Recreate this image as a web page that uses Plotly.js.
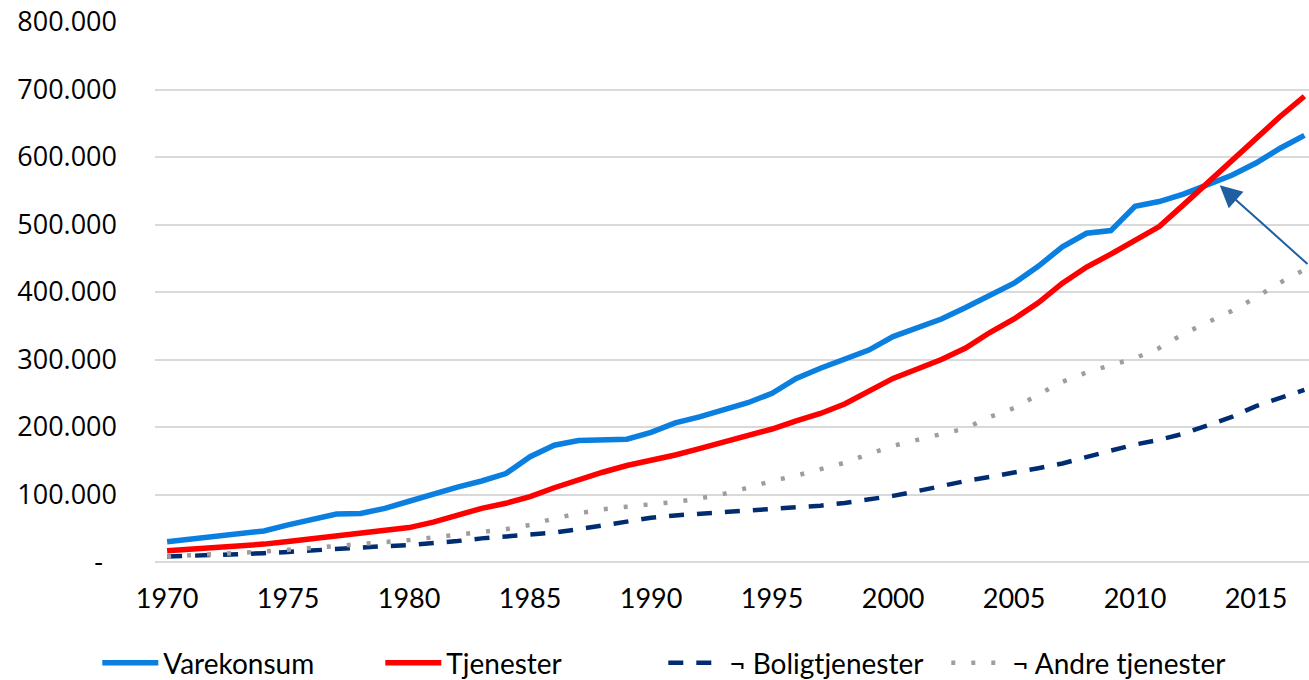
<!DOCTYPE html>
<html>
<head>
<meta charset="utf-8">
<script src="https://cdn.plot.ly/plotly-3.0.1.min.js"></script>
<style>
html,body{margin:0;padding:0;background:#fff;overflow:hidden;}
#chart{width:1309px;height:710px;}
</style>
</head>
<body>
<div id="chart"></div>
<script>
const years = [];
for (let y = 1970; y <= 2017; y++) years.push(y);

const varekonsum = [30000,33500,37000,41000,46000,55000,63000,71000,72000,79500,
  90000,101000,111000,120000,131000,156000,173000,180000,180000,182000,
  192000,206000,215000,225000,236000,250000,272000,287000,300000,314000,
  334000,346000,360000,377000,396000,413000,438000,467000,487000,491000,
  527000,534000,545000,558000,573000,591000,613000,632000];

const tjenester = [16500,18500,21000,23500,26500,30500,34500,39000,42500,46500,
  51000,59000,70000,79500,87000,97000,110000,122000,133000,143000,
  150000,158500,168000,178000,186000,197000,209000,220000,234000,252000,
  272000,286000,300000,317000,340000,360000,384000,413000,437000,456000,
  477000,497000,529000,562000,593000,626000,660000,690000];

const boligtjenester = [8000,9000,10500,11500,13000,15000,17500,20000,22000,23500,
  25000,27500,31000,35000,38000,40500,43500,48500,54000,60000,
  65500,69000,71500,73500,75500,77500,80500,83500,87500,92000,
  98000,105000,113000,120000,126000,132000,139000,146000,156000,165000,
  174000,181000,190000,203000,215000,231000,243000,255000];

const andreTjenester = [8000,9500,11000,13000,15500,18000,20500,23000,26000,29500,
  32500,36500,40000,44000,48500,55000,64500,72000,78000,82000,
  85000,89000,94000,101000,110000,120000,128000,137000,147000,160000,
  172000,181000,189000,198000,215000,228000,248000,267000,281000,291000,
  302000,317000,338000,355000,372000,392000,414000,433000];

const seriesNames = ["Varekonsum", "Tjenester", "¬ Boligtjenester", "¬ Andre tjenester"];
const xTickVals = [1970,1975,1980,1985,1990,1995,2000,2005,2010,2015];
const yTickVals = [0,100000,200000,300000,400000,500000,600000,700000,800000];
const yTickText = ["-\u00a0\u00a0","100.000","200.000","300.000","400.000","500.000","600.000","700.000","800.000"];

// arrow target (crossing point)
const arrowYear = 2013.5;
const arrowValue = 558000;

const traces = [
  {x: years, y: varekonsum, name: seriesNames[0], mode: "lines",
   line: {color: "#0A7FE0", width: 5.5}},
  {x: years, y: tjenester, name: seriesNames[1], mode: "lines",
   line: {color: "#FF0000", width: 5.5}},
  {x: years, y: boligtjenester, name: seriesNames[2], mode: "lines",
   line: {color: "#002D72", width: 4.5, dash: "15px,13px"}},
  {x: years, y: andreTjenester, name: seriesNames[3], mode: "lines",
   line: {color: "#9E9E9E", width: 4.5, dash: "4px,16px"}}
];

const layout = {
  width: 1309, height: 710,
  paper_bgcolor: "#ffffff", plot_bgcolor: "#ffffff",
  margin: {l: 155, r: 0, t: 22, b: 148, pad: 0},
  showlegend: true,
  legend: {
    orientation: "h", x: -0.05, xanchor: "left", y: -0.187, yanchor: "middle",
    font: {family: "Lato, sans-serif", size: 28, color: "#000"},
    bgcolor: "rgba(0,0,0,0)", itemwidth: 56, entrywidth: 212
  },
  xaxis: {
    type: "linear", range: [1969.5, 2017.19],
    tickmode: "array", tickvals: xTickVals, ticktext: xTickVals.map(String),
    showgrid: false, zeroline: false, showline: false, ticks: "",
    ticklabelstandoff: 18,
    tickfont: {family: "Lato, sans-serif", size: 27, color: "#000"},
    fixedrange: true
  },
  yaxis: {
    range: [0, 800000],
    tickmode: "array", tickvals: yTickVals, ticktext: yTickText,
    showgrid: true, gridcolor: "#D9D9D9", gridwidth: 2,
    zeroline: true, zerolinecolor: "#D9D9D9", zerolinewidth: 2,
    showline: false, ticks: "",
    ticklabelstandoff: 37,
    tickfont: {family: "'Open Sans', sans-serif", size: 27, color: "#000"},
    fixedrange: true
  },
  annotations: [{
    x: arrowYear, y: arrowValue, xref: "x", yref: "y",
    text: "", showarrow: true, arrowhead: 2, arrowsize: 2.2, arrowwidth: 2,
    arrowcolor: "#1F5F9F", ax: 134, ay: 80, standoff: 0
  }]
};

Plotly.newPlot("chart", traces, layout, {displayModeBar: false, staticPlot: true});
</script>
</body>
</html>
